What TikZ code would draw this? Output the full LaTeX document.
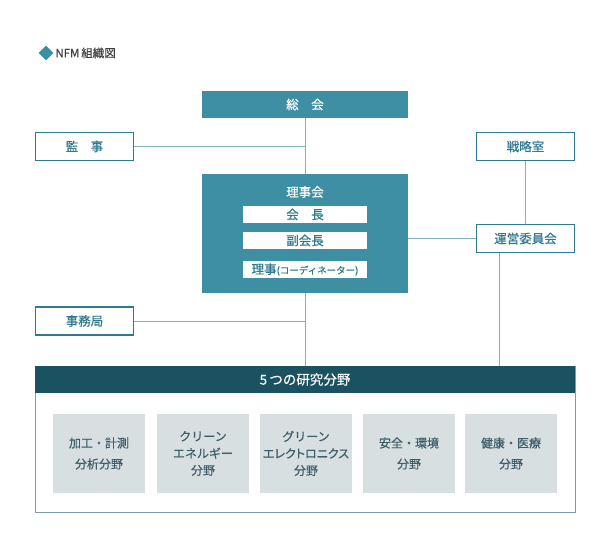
\documentclass[tikz,border=0pt]{standalone}
\usepackage{fontspec}
\newfontfamily\jpfont[FakeBold=0.5]{Noto Sans CJK JP}
\newfontfamily\jppfont[FakeBold=0.5, RawFeature=+palt]{Noto Sans CJK JP}
\usetikzlibrary{positioning, shapes.geometric}

\definecolor{nfmteal}{HTML}{3E8FA3}
\definecolor{nfmdark}{HTML}{1A5261}
\definecolor{nfmline}{HTML}{7FB2BF}
\definecolor{nfmtext}{HTML}{2F7A8E}
\definecolor{nfmgrey}{HTML}{D8DFE0}
\definecolor{nfmgtext}{HTML}{3D5E68}
\definecolor{nfmframe}{HTML}{7E9CA6}

\begin{document}
\begin{tikzpicture}[
  x=1pt, y=-1pt,
  mainbox/.style  = {rectangle, fill=nfmteal, text=white, inner sep=0pt,
                     minimum width=206pt, font=\jpfont\fontsize{12.5}{14}\selectfont},
  rolebox/.style  = {rectangle, fill=white, text=nfmtext, inner sep=0pt,
                     minimum width=124pt, minimum height=17pt,
                     font=\jpfont\fontsize{12.5}{14}\selectfont},
  sidebox/.style  = {rectangle, draw=nfmtext, line width=1.4pt, fill=white,
                     text=nfmtext, inner sep=0pt, minimum width=98pt,
                     minimum height=28pt, font=\jpfont\fontsize{12.5}{14}\selectfont},
  fieldbox/.style = {rectangle, fill=nfmgrey, text=nfmgtext, inner sep=0pt,
                     minimum width=92pt, minimum height=79pt, align=center,
                     font=\jpfont\fontsize{12}{21}\selectfont},
  link/.style     = {draw=nfmline, line width=1pt}
]
\useasboundingbox (0,0) rectangle (610,551);

% ── Title ────────────────────────────────────────────────────────────────────
\node[diamond, fill=nfmteal, inner sep=0pt, minimum size=15pt] (mark) at (46,53) {};
\node[right=1.5pt of mark, inner sep=0pt, text=black!75,
      font=\jpfont\fontsize{11.5}{13}\selectfont] (title) {NFM\,組織図};

% ── Central column ───────────────────────────────────────────────────────────
\node[mainbox, minimum height=27pt] (soukai) at (305,104.5) {総\hspace{1em}会};
\node[mainbox, minimum height=119pt] (rijikai) at (305,233.5) {};
\node[text=white, font=\jpfont\fontsize{12.5}{14}\selectfont] (rijilabel) at (305,192) {理事会};
\node[rolebox] (kaicho) at (305,214.5) {会\hspace{1em}長};
\node[rolebox] (fuku)   at (305,240.5) {副会長};
\node[rolebox] (riji)   at (305,269.5) {理事{\fontsize{9.5}{10}\selectfont (コーディネーター)}};

% ── Side boxes ───────────────────────────────────────────────────────────────
\node[sidebox] (kanji)    at (84.5,146.5)  {監\hspace{1em}事};
\node[sidebox] (jimu)     at (84.5,321)    {事務局};
\node[sidebox] (senryaku) at (525.5,146.5) {戦略室};
\node[sidebox] (unei)     at (525.5,238.5) {運営委員会};

% ── Research fields ──────────────────────────────────────────────────────────
\node[rectangle, draw=nfmframe, line width=1pt, inner sep=0pt,
      minimum width=540pt, minimum height=146pt] (outer) at (305,439) {};
\node[rectangle, fill=nfmdark, text=white, inner sep=0pt, minimum width=540pt,
      minimum height=27pt, font=\jpfont\fontsize{13.5}{15}\selectfont]
  (header) at (305,379.5) {5\,つの研究分野};

\node[fieldbox] (kako)   at (99,453.5)  {加工・計測\\分析分野};
\node[fieldbox] (clean)  at (203,453.5) {クリーン\\[-4pt]エネルギー\\[-4pt]分野};
\node[fieldbox] (green)  at (306,453.5) {グリーン\\[-4pt]{\jppfont エレクトロニクス}\\[-4pt]分野};
\node[fieldbox] (anzen)  at (409,453.5) {安全・環境\\分野};
\node[fieldbox] (kenko)  at (511,453.5) {健康・医療\\分野};

% ── Connectors ───────────────────────────────────────────────────────────────
\coordinate (uneiout) at (499,253);
\draw[link] (soukai.south) -- (rijikai.north);
\draw[link] (kanji.east) -- (soukai.south |- kanji.east);
\draw[link] (rijikai.south) -- (header.north);
\draw[link] (jimu.east) -- (rijikai.south |- jimu.east);
\draw[link] (unei.west) -- (unei.west -| rijikai.east);
\draw[link] (senryaku.south) -- (unei.north);
\draw[link] (uneiout) -- (uneiout |- header.north);

\end{tikzpicture}
\end{document}
